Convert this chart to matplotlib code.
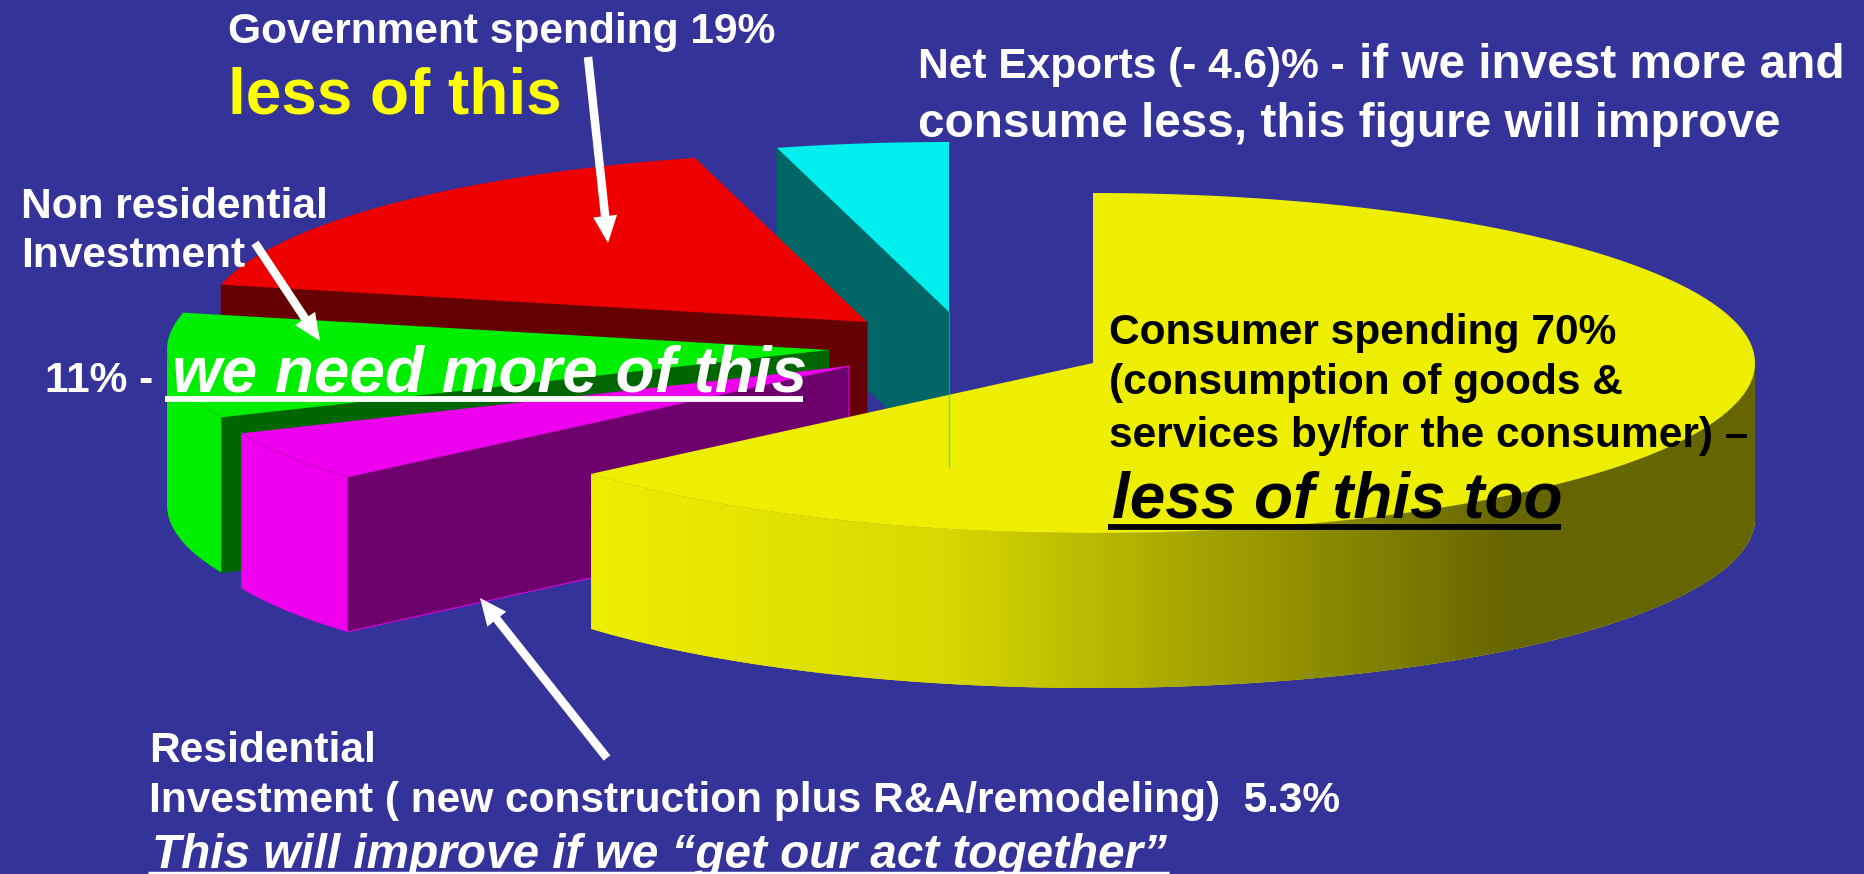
import numpy as np
import matplotlib
matplotlib.use('Agg')
import matplotlib.pyplot as plt
from matplotlib.patches import Polygon, FancyArrow
from matplotlib.colors import LinearSegmentedColormap

plt.rcParams['font.family'] = ['Liberation Sans', 'DejaVu Sans']

# GDP shares, going counter clockwise from 12 o'clock (net exports is negative, pie uses the size)
categories = ['Net Exports', 'Government spending', 'Non residential Investment',
              'Residential Investment', 'Consumer spending']
values = [-4.6, 19, 11, 5.3, 70]

top_colors = ['#00EEEE', '#EE0000', '#00EE00', '#EE00EE', '#EEEE00']
dark_colors = ['#006666', '#660000', '#006600', '#6E006E', '#666600']
edge_colors = ['#006666', '#660000', '#006600', '#EE00EE', '#666600']

# where each exploded slice has its point, in pixels
apex_x = [949, 867, 829, 849, 1093]
apex_y = [312, 322, 350, 366, 363]

BG = '#333399'
RX, RY, DEPTH = 662, 170, 155

fig = plt.figure(figsize=(18.64, 8.74), dpi=100, facecolor=BG)
ax = fig.add_axes([0, 0, 1, 1])
ax.set_facecolor(BG)


def rim(x0, y0, a, b):
    t = np.radians(np.linspace(a, b, 200))
    return np.column_stack([x0 + RX * np.cos(t), y0 - RY * np.sin(t)])


sizes = np.abs(values) / np.abs(values).sum() * 360
lo = 90 + np.concatenate([[0], np.cumsum(sizes)[:-1]])
hi = lo + sizes

wall_cmap = LinearSegmentedColormap.from_list('wall', [(0, '#EEEE00'), (0.3, '#D8D800'),
                                                       (0.79, '#666600'), (1, '#666600')])

for i in range(len(values)):
    x0, y0 = apex_x[i], apex_y[i]
    # cut face on the high angle side
    edge = rim(x0, y0, hi[i], hi[i])[0]
    face = [(x0, y0), edge, edge + [0, DEPTH], (x0, y0 + DEPTH)]
    ax.add_patch(Polygon(face, closed=True, fc=dark_colors[i], ec=edge_colors[i], lw=0.7, zorder=2 + i))

    # outer wall, only the front half of the ellipse shows
    a = max(lo[i], 180)
    b = min(hi[i], 360)
    if b > a:
        upper = rim(x0, y0, a, b)
        lower = upper[::-1] + [0, DEPTH]
        wall = Polygon(np.vstack([upper, lower]), closed=True, fc=top_colors[i], ec='none', zorder=2 + i)
        ax.add_patch(wall)
        if i == len(values) - 1:
            left = upper[:, 0].min()
            right = upper[:, 0].max()
            img = ax.imshow(np.linspace(0, 1, 400).reshape(1, -1), cmap=wall_cmap, aspect='auto',
                            extent=[left, right, 900, 0], zorder=2 + i + 0.1)
            img.set_clip_path(wall)
    # top
    pts = np.vstack([[x0, y0], rim(x0, y0, lo[i], hi[i])])
    ax.add_patch(Polygon(pts, closed=True, fc=top_colors[i], ec='none', zorder=2 + i + 0.2))

# edge on face of the net exports slice shows as a thin line over the yellow
ax.plot([apex_x[0], apex_x[0]], [apex_y[0], apex_y[0] + DEPTH], color='#00CCCC', lw=1, alpha=0.6, zorder=8)

# arrows
arrow_from = [(588, 57), (255, 243), (607, 758)]
arrow_to = [(608, 243), (320, 341), (480, 598)]
for s, e in zip(arrow_from, arrow_to):
    ax.add_patch(FancyArrow(s[0], s[1], e[0] - s[0], e[1] - s[1], width=8.5, head_width=24, head_length=27,
                            length_includes_head=True, fc='white', ec='none', zorder=9))

W = dict(color='white', fontweight='bold', va='baseline', zorder=10)
K = dict(color='black', fontweight='bold', va='baseline', zorder=10)
SMALL = 30.6

ax.text(228, 43, 'Government spending 19%', fontsize=SMALL, **W)
ax.text(228, 114, 'less of this', fontsize=46, color='#FFFF00', fontweight='bold', va='baseline', zorder=10)
ax.text(918, 78, 'Net Exports (- 4.6)% -', fontsize=SMALL, **W)
ax.text(1359, 78, 'if we invest more and', fontsize=34.4, **W)
ax.text(918, 137, 'consume less, this figure will improve', fontsize=34.4, **W)
ax.text(21, 218, 'Non residential', fontsize=SMALL, **W)
ax.text(21, 267, 'Investment', fontsize=SMALL, **W)
ax.text(45, 392, '11% -', fontsize=SMALL, **W)
ax.text(172, 392, 'we need more of this', fontsize=46, style='italic', **W)
ax.plot([165, 803], [399, 399], color='white', lw=4.2, solid_capstyle='butt', zorder=10)

ax.text(1109, 344, 'Consumer spending 70%', fontsize=SMALL, **K)
ax.text(1109, 394, '(consumption of goods &', fontsize=SMALL, **K)
ax.text(1109, 447, 'services by/for the consumer) \u2013', fontsize=SMALL, **K)
ax.text(1112, 518, 'less of this too', fontsize=46, style='italic', **K)
ax.plot([1108, 1561], [527, 527], color='black', lw=4.2, solid_capstyle='butt', zorder=10)

ax.text(149, 762, 'Residential', fontsize=SMALL, **W)
ax.text(149, 812, 'Investment ( new construction plus R&A/remodeling)  5.3%', fontsize=SMALL, **W)
ax.text(152, 868, 'This will improve if we \u201cget our act together\u201d', fontsize=34.4, style='italic', **W)
ax.plot([148, 1169], [873, 873], color='white', lw=2.5, solid_capstyle='butt', zorder=10)

ax.set_xlim(0, 1864)
ax.set_ylim(874, 0)
ax.axis('off')

plt.savefig('out.png', dpi=100, facecolor=BG)
